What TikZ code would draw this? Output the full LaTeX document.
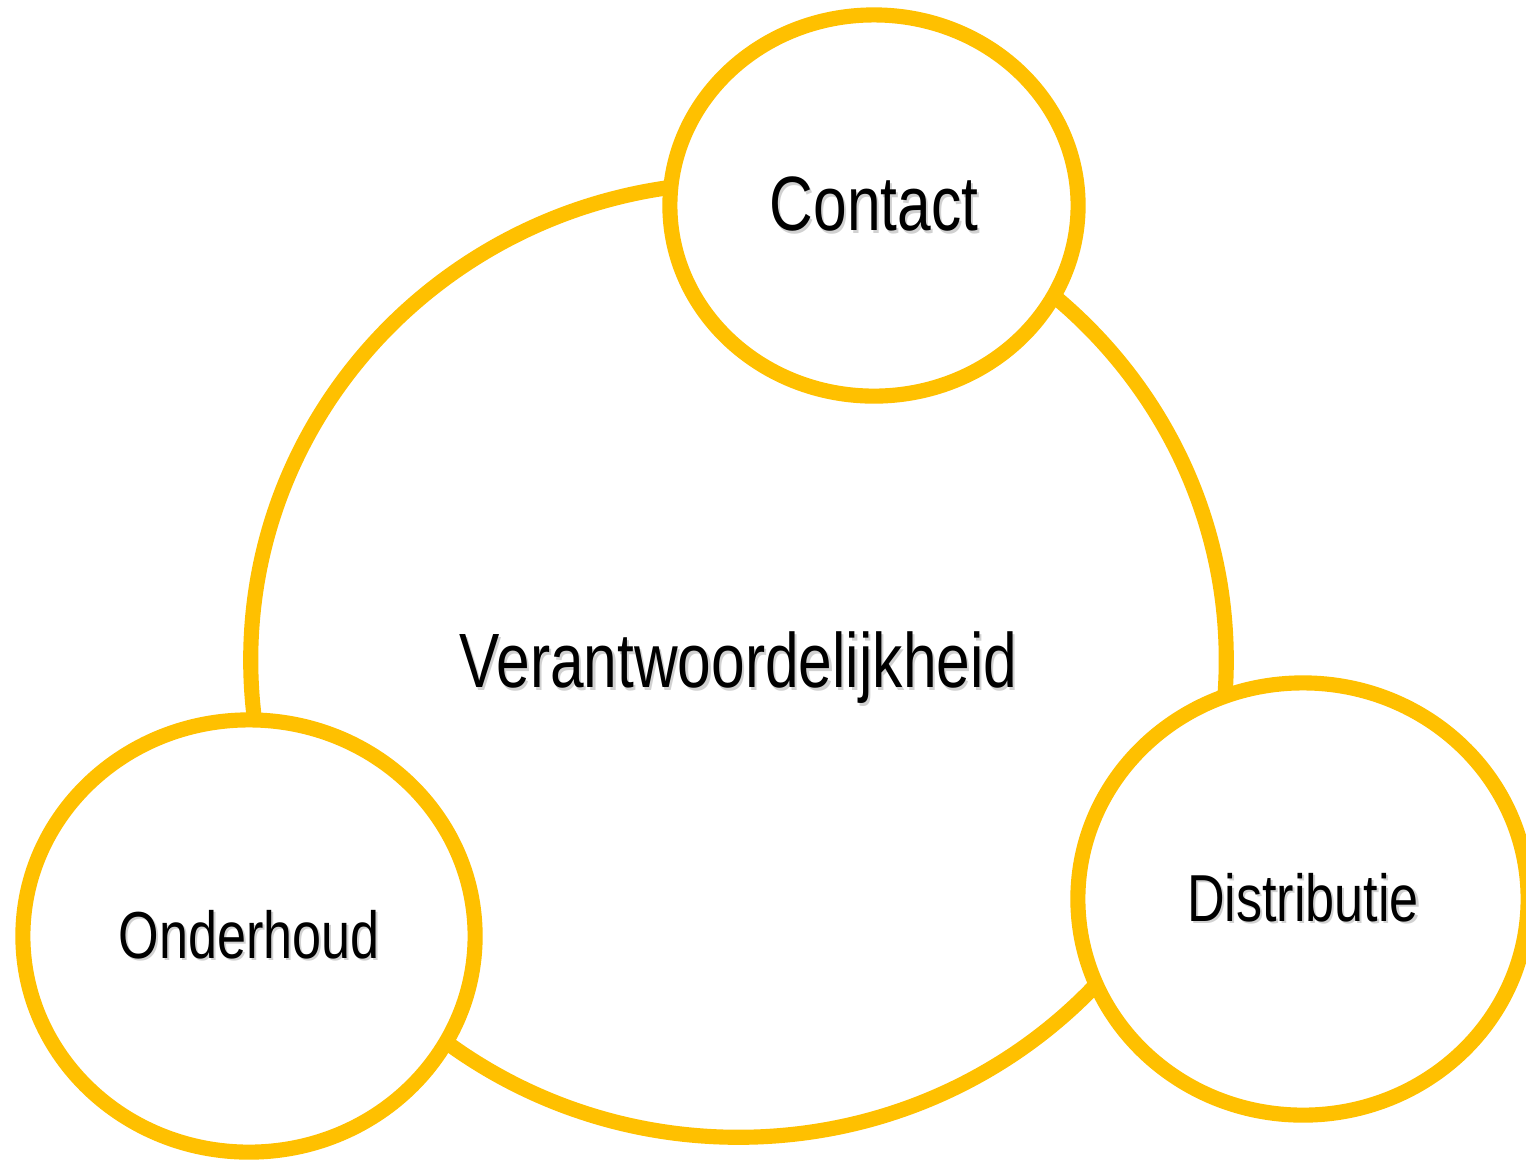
\documentclass[tikz,border=0pt]{standalone}
\usepackage{fontspec}
\setmainfont{Liberation Sans}
\newfontfamily\narrowsans[FakeStretch=0.785]{Liberation Sans}
\usetikzlibrary{shapes}

\definecolor{gold}{HTML}{FFC000}
\newcommand\dropshadow[1]{\leavevmode\rlap{\hspace{0.6pt}\raisebox{-0.6pt}{\color{black!18}#1}}#1}

\begin{document}
\begin{tikzpicture}[x = 0.01cm, y = -0.01cm]
\tikzstyle{RingStyle}=[shape = ellipse,
                       draw = gold,
                       line width = 4.3pt,
                       fill = white,
                       inner sep = 0pt]
\tikzstyle{BigFont}=[font = \narrowsans\fontsize{21.9}{26}\selectfont]
\tikzstyle{SmallFont}=[font = \narrowsans\fontsize{18.9}{23}\selectfont]
\useasboundingbox (0,0) rectangle (1526,1159);
\node[RingStyle, BigFont, text depth = 0pt, minimum width = 9.75cm, minimum height = 9.54cm] (duty) at (738.5, 660) {\dropshadow{Verantwoordelijkheid}};
\node[RingStyle, BigFont, minimum width = 4.08cm, minimum height = 3.81cm] (contact) at (874, 205.5) {\dropshadow{Contact}};
\node[RingStyle, SmallFont, minimum width = 4.5cm, minimum height = 4.32cm] (distr) at (1303, 899) {\dropshadow{Distributie}};
\node[RingStyle, SmallFont, minimum width = 4.52cm, minimum height = 4.32cm] (maint) at (249, 936) {\dropshadow{Onderhoud}};
\end{tikzpicture}
\end{document}
